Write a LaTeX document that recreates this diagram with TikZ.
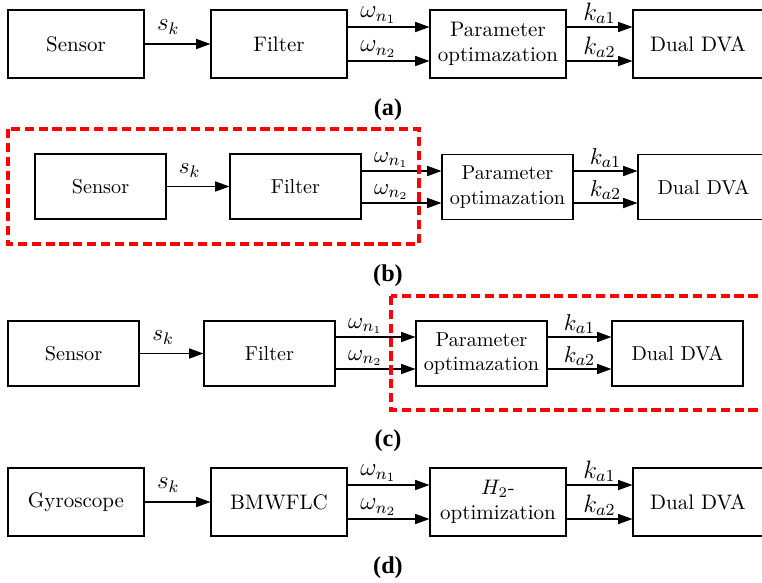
\documentclass[tikz,border=0pt]{standalone}
\usepackage{fontspec}
\newfontfamily\capfont{Liberation Serif}[BoldFont={Liberation Serif Bold}]
\usetikzlibrary{arrows.meta}

\begin{document}
\begin{tikzpicture}[x=0.476pt, y=-0.476pt,
  blk/.style={draw, line width=0.5pt, inner sep=0pt, align=center,
    font=\fontsize{10}{12}\selectfont},
  bigblk/.style={blk, minimum width=136*0.476pt, minimum height=68*0.476pt},
  dvablk/.style={blk, minimum width=130*0.476pt, minimum height=68*0.476pt},
  smallblk/.style={blk, minimum width=131*0.476pt, minimum height=65*0.476pt,
    font=\fontsize{9.6}{11.5}\selectfont},
  sig/.style={-{Triangle[length=6.8pt,width=4.8pt]}, line width=0.55pt},
  lbl/.style={above, inner sep=1.2pt, font=\fontsize{11.5}{13}\selectfont},
  slbl/.style={above, inner sep=1.2pt, font=\fontsize{11}{13}\selectfont},
  wlbl/.style={lbl, xshift=-4.8pt},
  swlbl/.style={slbl, xshift=-4.8pt},
  inlbl/.style={above, inner sep=4.2pt, xshift=-4.4pt, font=\fontsize{11.5}{13}\selectfont},
  sinlbl/.style={above, inner sep=4pt, xshift=-4pt, font=\fontsize{11}{13}\selectfont},
  regionframe/.style={red, line width=1.9pt, dash pattern=on 4.4pt off 2.2pt},
  subcap/.style={font=\fontsize{11.5}{13}\selectfont}
]
\path[use as bounding box] (0,0) rectangle (762,582);
\clip (0,0) rectangle (762,582);

% ---------- (a) ----------
\node[bigblk] (senA) at (76,44) {Sensor};
\node[bigblk] (filA) at (279,44) {Filter};
\node[bigblk] (parA) at (498,44) {Parameter\\optimazation};
\node[dvablk] (dvaA) at (698,44) {Dual DVA};
\draw[sig] (senA) -- node[inlbl] {$s_k$} (filA);
\draw[sig] (filA.east |- 0,27) -- node[wlbl] {$\omega_{n_1}$} (parA.west |- 0,27);
\draw[sig] (filA.east |- 0,61) -- node[wlbl] {$\omega_{n_2}$} (parA.west |- 0,61);
\draw[sig] (parA.east |- 0,27) -- node[lbl] {$k_{a1}$} (dvaA.west |- 0,27);
\draw[sig] (parA.east |- 0,61) -- node[lbl] {$k_{a2}$} (dvaA.west |- 0,61);
\node[subcap] (capA) at (388,110) {\capfont\textbf{(a)}};

% ---------- (b) ----------
\node[smallblk] (senB) at (100.5,186.5) {Sensor};
\node[smallblk] (filB) at (295.5,186.5) {Filter};
\node[smallblk] (parB) at (507.5,187) {Parameter\\optimazation};
\node[smallblk] (dvaB) at (703.5,187) {Dual DVA};
\draw[sig] (senB) -- node[sinlbl] {$s_k$} (filB);
\draw[sig] (filB.east |- 0,171) -- node[swlbl] {$\omega_{n_1}$} (parB.west |- 0,171);
\draw[sig] (filB.east |- 0,203) -- node[swlbl] {$\omega_{n_2}$} (parB.west |- 0,203);
\draw[sig] (parB.east |- 0,171) -- node[slbl] {$k_{a1}$} (dvaB.west |- 0,171);
\draw[sig] (parB.east |- 0,203) -- node[slbl] {$k_{a2}$} (dvaB.west |- 0,203);
\draw[regionframe] (8,129) rectangle (419,244);
\node[subcap] (capB) at (388,276) {\capfont\textbf{(b)}};

% ---------- (c) ----------
\node[smallblk] (senC) at (73.5,353.5) {Sensor};
\node[smallblk] (filC) at (269.5,353.5) {Filter};
\node[smallblk] (parC) at (481.5,353.5) {Parameter\\optimazation};
\node[smallblk] (dvaC) at (677.5,353.5) {Dual DVA};
\draw[sig] (senC) -- node[sinlbl] {$s_k$} (filC);
\draw[sig] (filC.east |- 0,337) -- node[swlbl] {$\omega_{n_1}$} (parC.west |- 0,337);
\draw[sig] (filC.east |- 0,369) -- node[swlbl] {$\omega_{n_2}$} (parC.west |- 0,369);
\draw[sig] (parC.east |- 0,337) -- node[slbl] {$k_{a1}$} (dvaC.west |- 0,337);
\draw[sig] (parC.east |- 0,369) -- node[slbl] {$k_{a2}$} (dvaC.west |- 0,369);
\draw[regionframe] (391,296) rectangle (800,410);
\node[subcap] (capC) at (388,441) {\capfont\textbf{(c)}};

% ---------- (d) ----------
\node[bigblk] (gyrD) at (76,502) {Gyroscope};
\node[bigblk] (filD) at (279,502) {BMWFLC};
\node[bigblk] (optD) at (498,502) {$H_2$-\\optimization};
\node[dvablk] (dvaD) at (698,502) {Dual DVA};
\draw[sig] (gyrD) -- node[inlbl] {$s_k$} (filD);
\draw[sig] (filD.east |- 0,485) -- node[wlbl] {$\omega_{n_1}$} (optD.west |- 0,485);
\draw[sig] (filD.east |- 0,519) -- node[wlbl] {$\omega_{n_2}$} (optD.west |- 0,519);
\draw[sig] (optD.east |- 0,485) -- node[lbl] {$k_{a1}$} (dvaD.west |- 0,485);
\draw[sig] (optD.east |- 0,519) -- node[lbl] {$k_{a2}$} (dvaD.west |- 0,519);
\node[subcap] (capD) at (388,568) {\capfont\textbf{(d)}};
\end{tikzpicture}
\end{document}
